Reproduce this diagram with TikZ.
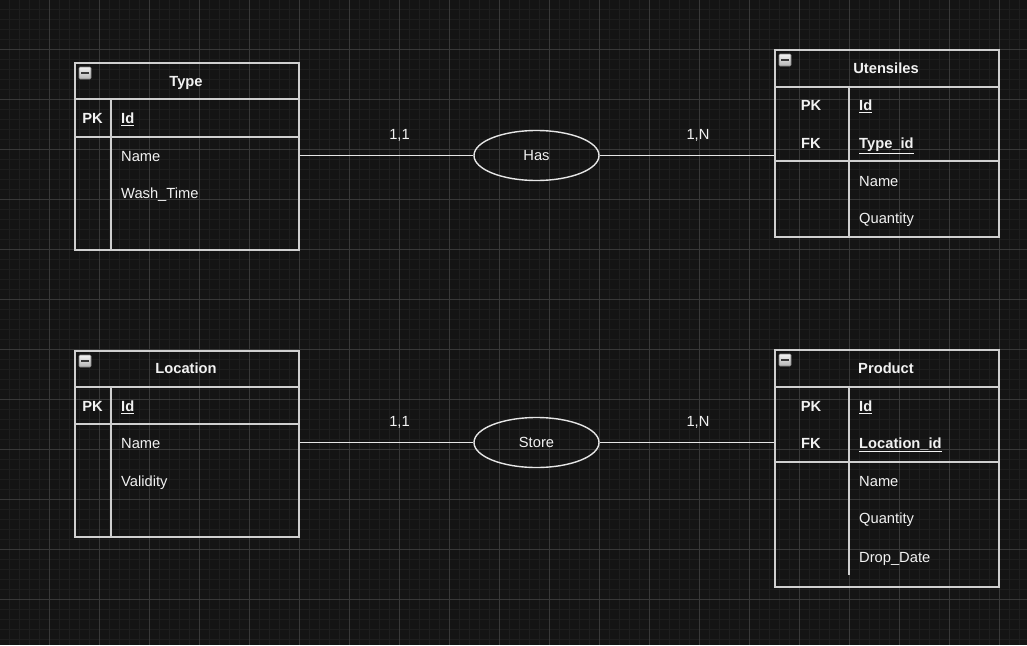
\documentclass[tikz,border=0pt]{standalone}
\usepackage{fontspec}
\setmainfont{Liberation Sans}
\usetikzlibrary{shapes.geometric}
\definecolor{bg}{HTML}{141414}
\definecolor{gridminor}{HTML}{1E1E1E}
\definecolor{gridmajor}{HTML}{383838}
\definecolor{edgec}{HTML}{CFCFCF}
\definecolor{linec}{HTML}{E6E6E6}
\definecolor{txt}{HTML}{F2F2F2}
\definecolor{iconfill}{HTML}{C4C4C4}
\definecolor{iconbar}{HTML}{3A3A3A}
\begin{document}
\begin{tikzpicture}[x=1pt,y=-1pt,
  tbl/.style={draw=edgec, line width=1.5pt, rectangle, inner sep=0pt, anchor=north west},
  sep/.style={draw=edgec, line width=1.5pt},
  conn/.style={draw=linec, line width=1.4pt},
  rel/.style={ellipse, draw=linec, line width=1.4pt, minimum width=125pt, minimum height=50pt, inner sep=0pt,
     text=txt, font=\fontsize{14.7}{17}\selectfont},
  base/.style={text=txt, inner sep=0pt, text height=10.5pt, text depth=0pt, font=\fontsize{14.7}{17}\selectfont},
  hdr/.style={base, font=\fontsize{14.7}{17}\selectfont\bfseries},
  keyc/.style={base, font=\fontsize{14.7}{17}\selectfont\bfseries},
  keyf/.style={base, anchor=west, font=\fontsize{14.7}{17}\selectfont\bfseries},
  fld/.style={base, anchor=west},
  card/.style={base},
  icon/.style={draw=gray, top color=white!90!gray, bottom color=iconfill!80!gray, line width=0.6pt, rounded corners=1pt, minimum size=12pt, inner sep=0pt}
]
\fill[bg] (0,0) rectangle (1027,645);
\useasboundingbox (0,0) rectangle (1027,645);
% grid
\foreach \x in {9.5,19.5,...,1025} \draw[gridminor, line width=1pt] (\x,0) -- (\x,645);
\foreach \y in {9.5,19.5,...,645} \draw[gridminor, line width=1pt] (0,\y) -- (1027,\y);
\foreach \x in {49.5,99.5,...,1025} \draw[gridmajor, line width=1pt] (\x,0) -- (\x,645);
\foreach \y in {49.5,99.5,...,645} \draw[gridmajor, line width=1pt] (0,\y) -- (1027,\y);

% ---------- Type ----------
\node[tbl, minimum width=224pt, minimum height=187pt] (type) at (74,62) {};
\draw[sep] (74,99) -- (298,99);
\draw[sep] (74,137) -- (298,137);
\draw[sep] (111,99) -- (111,249);
\node[icon] (typeI) at (85,73) {};
\draw[iconbar, line width=1.8pt] (81,73) -- (89,73);
\node[hdr] (typeH) at (186,81) {Type};
\node[keyc] (typePK) at (92.5,118) {PK};
\node[keyf] (typeId) at (121,118) {\underline{Id}};
\node[fld] (typeN) at (121,156) {Name};
\node[fld] (typeW) at (121,193) {Wash\_Time};

% ---------- Utensiles ----------
\node[tbl, minimum width=224pt, minimum height=187pt] (uten) at (774,49) {};
\draw[sep] (774,87) -- (998,87);
\draw[sep] (774,161) -- (998,161);
\draw[sep] (849,87) -- (849,236);
\node[icon] (utenI) at (785,60) {};
\draw[iconbar, line width=1.8pt] (781,60) -- (789,60);
\node[hdr] (utenH) at (886,68) {Utensiles};
\node[keyc] (utenPK) at (811,105) {PK};
\node[keyc] (utenFK) at (811,143) {FK};
\node[keyf] (utenId) at (859,105) {\underline{Id}};
\node[keyf] (utenT) at (859,143) {\underline{Type\_id}};
\node[fld] (utenN) at (859,181) {Name};
\node[fld] (utenQ) at (859,218) {Quantity};

% ---------- Location ----------
\node[tbl, minimum width=224pt, minimum height=186pt] (loc) at (74,350) {};
\draw[sep] (74,387) -- (298,387);
\draw[sep] (74,424) -- (298,424);
\draw[sep] (111,387) -- (111,536);
\node[icon] (locI) at (85,361) {};
\draw[iconbar, line width=1.8pt] (81,361) -- (89,361);
\node[hdr] (locH) at (186,368) {Location};
\node[keyc] (locPK) at (92.5,406) {PK};
\node[keyf] (locId) at (121,406) {\underline{Id}};
\node[fld] (locN) at (121,443) {Name};
\node[fld] (locV) at (121,481) {Validity};

% ---------- Product ----------
\node[tbl, minimum width=224pt, minimum height=237pt] (prod) at (774,349) {};
\draw[sep] (774,387) -- (998,387);
\draw[sep] (774,462) -- (998,462);
\draw[sep] (849,387) -- (849,575);
\node[icon] (prodI) at (785,360) {};
\draw[iconbar, line width=1.8pt] (781,360) -- (789,360);
\node[hdr] (prodH) at (886,368) {Product};
\node[keyc] (prodPK) at (811,406) {PK};
\node[keyc] (prodFK) at (811,443) {FK};
\node[keyf] (prodId) at (859,406) {\underline{Id}};
\node[keyf] (prodL) at (859,443) {\underline{Location\_id}};
\node[fld] (prodN) at (859,481) {Name};
\node[fld] (prodQ) at (859,518) {Quantity};
\node[fld] (prodD) at (859,557) {Drop\_Date};

% ---------- Relationships ----------
\node[rel] (has) at (536.5,155.5) {Has};
\node[rel] (store) at (536.5,442.5) {Store};

\draw[conn] (has.west -| type.east) -- (has.west);
\draw[conn] (has.east) -- (has.east -| uten.west);
\draw[conn] (store.west -| loc.east) -- (store.west);
\draw[conn] (store.east) -- (store.east -| prod.west);

\node[card] (c1) at (399.5,134) {1,1};
\node[card] (c2) at (698,134) {1,N};
\node[card] (c3) at (399.5,421) {1,1};
\node[card] (c4) at (698,421) {1,N};
\end{tikzpicture}
\end{document}
